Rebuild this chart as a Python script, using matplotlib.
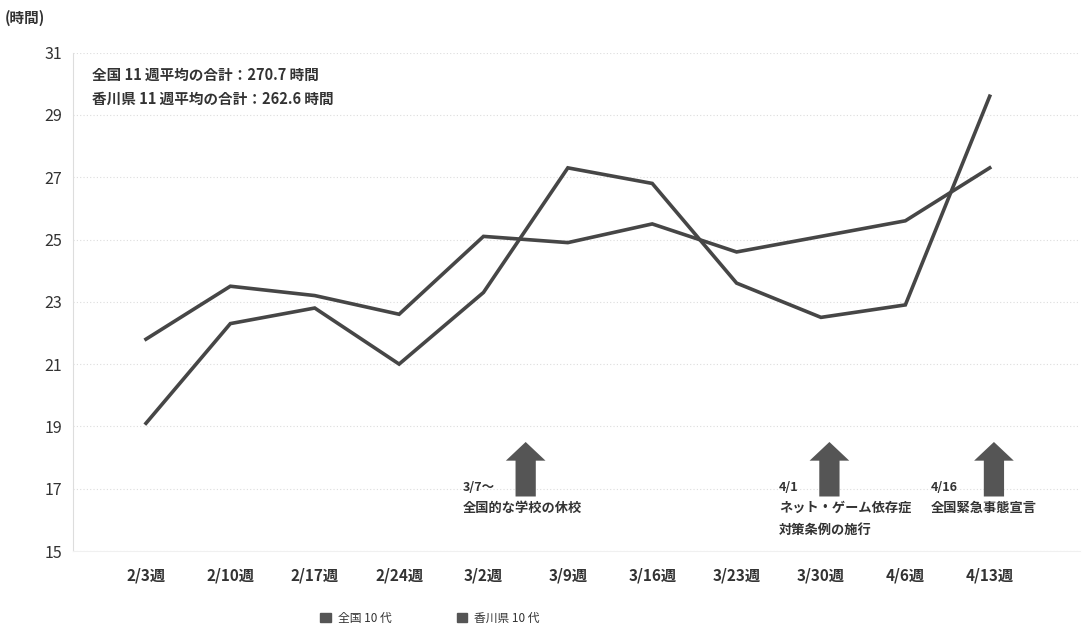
import numpy as np
import matplotlib.pyplot as plt
from matplotlib.patches import Patch, FancyArrow

plt.rcParams['font.family'] = ['Noto Sans CJK JP', 'DejaVu Sans']

# data
weeks = ["2/3週", "2/10週", "2/17週", "2/24週", "3/2週", "3/9週",
         "3/16週", "3/23週", "3/30週", "4/6週", "4/13週"]
zenkoku = [21.8, 23.5, 23.2, 22.6, 25.1, 24.9, 25.5, 24.6, 25.1, 25.6, 27.3]
kagawa = [19.1, 22.3, 22.8, 21.0, 23.3, 27.3, 26.8, 23.6, 22.5, 22.9, 29.6]
y_ticks = [15, 17, 19, 21, 23, 25, 27, 29, 31]

events_x = [4.5, 8.1, 10.05]
events_date = ["3/7〜", "4/1", "4/16"]
events_text = ["全国的な学校の休校", "ネット・ゲーム依存症\n対策条例の施行", "全国緊急事態宣言"]
events_text_x = [3.75, 7.5, 9.3]

line_col = "#464646"
text_col = "#333333"

fig = plt.figure(figsize=(10.83, 6.39), dpi=100)
ax = fig.add_axes([73 / 1083, 1 - 551 / 639, (1080 - 73) / 1083, (551 - 52.6) / 639])

x = np.arange(len(weeks))
ax.plot(x, zenkoku, color=line_col, lw=2.6, solid_joinstyle="miter")
ax.plot(x, kagawa, color=line_col, lw=2.6, solid_joinstyle="miter")

ax.set_xlim(-0.865, 11.07)
ax.set_ylim(15, 31)
ax.set_yticks(y_ticks)
ax.set_yticklabels([str(v) for v in y_ticks], fontsize=11.5, color=text_col)
ax.set_xticks(x)
ax.set_xticklabels(weeks, fontsize=11, color=text_col, fontweight="bold")
ax.tick_params(length=0, pad=8)
ax.tick_params(axis="x", pad=12)

ax.grid(axis="y", color="#dddddd", lw=0.8, ls=(0, (1, 2)))
ax.set_axisbelow(True)
for side in ["top", "right"]:
    ax.spines[side].set_visible(False)
ax.spines["left"].set_color("#dddddd")
ax.spines["bottom"].set_color("#f0f0f0")

# event arrows
for ex, d, t, tx in zip(events_x, events_date, events_text, events_text_x):
    arr = FancyArrow(ex, 16.75, 0, 1.75, width=0.24, head_width=0.47,
                     head_length=0.6, length_includes_head=True,
                     color="#555555", lw=0, zorder=3)
    ax.add_patch(arr)
    ax.text(tx, 17.04, d, fontsize=9, color=text_col, fontweight="bold",
            ha="left", va="center")
    ax.text(tx, 16.62, t, fontsize=9.5, color=text_col, fontweight="bold",
            ha="left", va="top", linespacing=1.75)

ax.text(-0.64, 30.3, "全国 11 週平均の合計：270.7 時間", fontsize=10.5,
        color=text_col, fontweight="bold", va="center")
ax.text(-0.64, 29.5, "香川県 11 週平均の合計：262.6 時間", fontsize=10.5,
        color=text_col, fontweight="bold", va="center")

fig.text(5 / 1083, 1 - 18 / 639, "(時間)", fontsize=10.5, color=text_col,
         fontweight="bold", va="center")

handles = [Patch(color="#555555", label="全国 10 代"),
           Patch(color="#555555", label="香川県 10 代")]
fig.legend(handles=handles, loc="center", bbox_to_anchor=(0.397, 1 - 618 / 639),
           ncol=2, frameon=False, fontsize=8.5, handlelength=0.9,
           handleheight=0.9, columnspacing=5.5, handletextpad=0.6,
           labelcolor=text_col)

fig.savefig("out.png", dpi=100)
